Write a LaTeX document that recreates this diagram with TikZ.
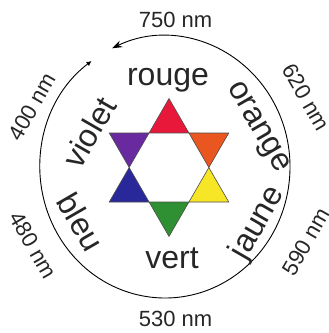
\documentclass[tikz,border=0pt]{standalone}
\usepackage{fontspec}
\setmainfont{Liberation Sans}
\usetikzlibrary{arrows.meta}
\definecolor{rougec}{RGB}{232,24,58}
\definecolor{orangec}{RGB}{234,86,31}
\definecolor{jaunec}{RGB}{246,230,37}
\definecolor{vertc}{RGB}{46,144,51}
\definecolor{bleuc}{RGB}{40,40,155}
\definecolor{violetc}{RGB}{104,42,158}
\tikzset{
    couleur/.style={font=\fontsize{32}{32}\selectfont,inner sep=0pt,text=black!85},
    onde/.style={font=\fontsize{22}{22}\selectfont,inner sep=0pt,text=black!85}
}
\begin{document}
\begin{tikzpicture}[x=1pt,y=1pt]
    \useasboundingbox (-165,-166) rectangle (164,167);
    \coordinate (O) at (0,0);
    % cercle des longueurs d'onde
    \draw[line width=0.9pt,{Latex[length=5pt,width=5pt]}-{Stealth[length=10pt,width=7pt]}]
        (126:125 and 131) arc[start angle=126,end angle=475,x radius=125,y radius=131];
    % etoile
    \begin{scope}[shift={(4,-0.5)}]
        \foreach \a/\c in {90/rougec,30/orangec,-30/jaunec,-90/vertc,-150/bleuc,150/violetc}
            \filldraw[fill=\c,draw=black!70,line width=0.6pt]
                (\a:69) -- (\a+30:39.84) -- (\a-30:39.84) -- cycle;
    \end{scope}
    % couleurs
    \node[couleur,anchor=base] (rouge) at (3,82) {rouge};
    \node[couleur,anchor=base] (vert) at (7,-101) {vert};
    \node[couleur,rotate=60] (violet) at (-76,35) {violet};
    \node[couleur,rotate=-60] (bleu) at (-84,-55) {bleu};
    \node[couleur,rotate=-60] (orange) at (92,39) {orange};
    \node[couleur,rotate=60] (jaune) at (93,-56) {jaune};
    % longueurs d'onde
    \node[onde] (l750) at (10.5,147) {750 nm};
    \node[onde] (l530) at (10.5,-152) {530 nm};
    \node[onde,rotate=60] (l400) at (-133,60) {400 nm};
    \node[onde,rotate=-60] (l480) at (-132,-78) {480 nm};
    \node[onde,rotate=-60] (l620) at (141,70) {620 nm};
    \node[onde,rotate=60] (l590) at (141,-75) {590 nm};
\end{tikzpicture}
\end{document}
